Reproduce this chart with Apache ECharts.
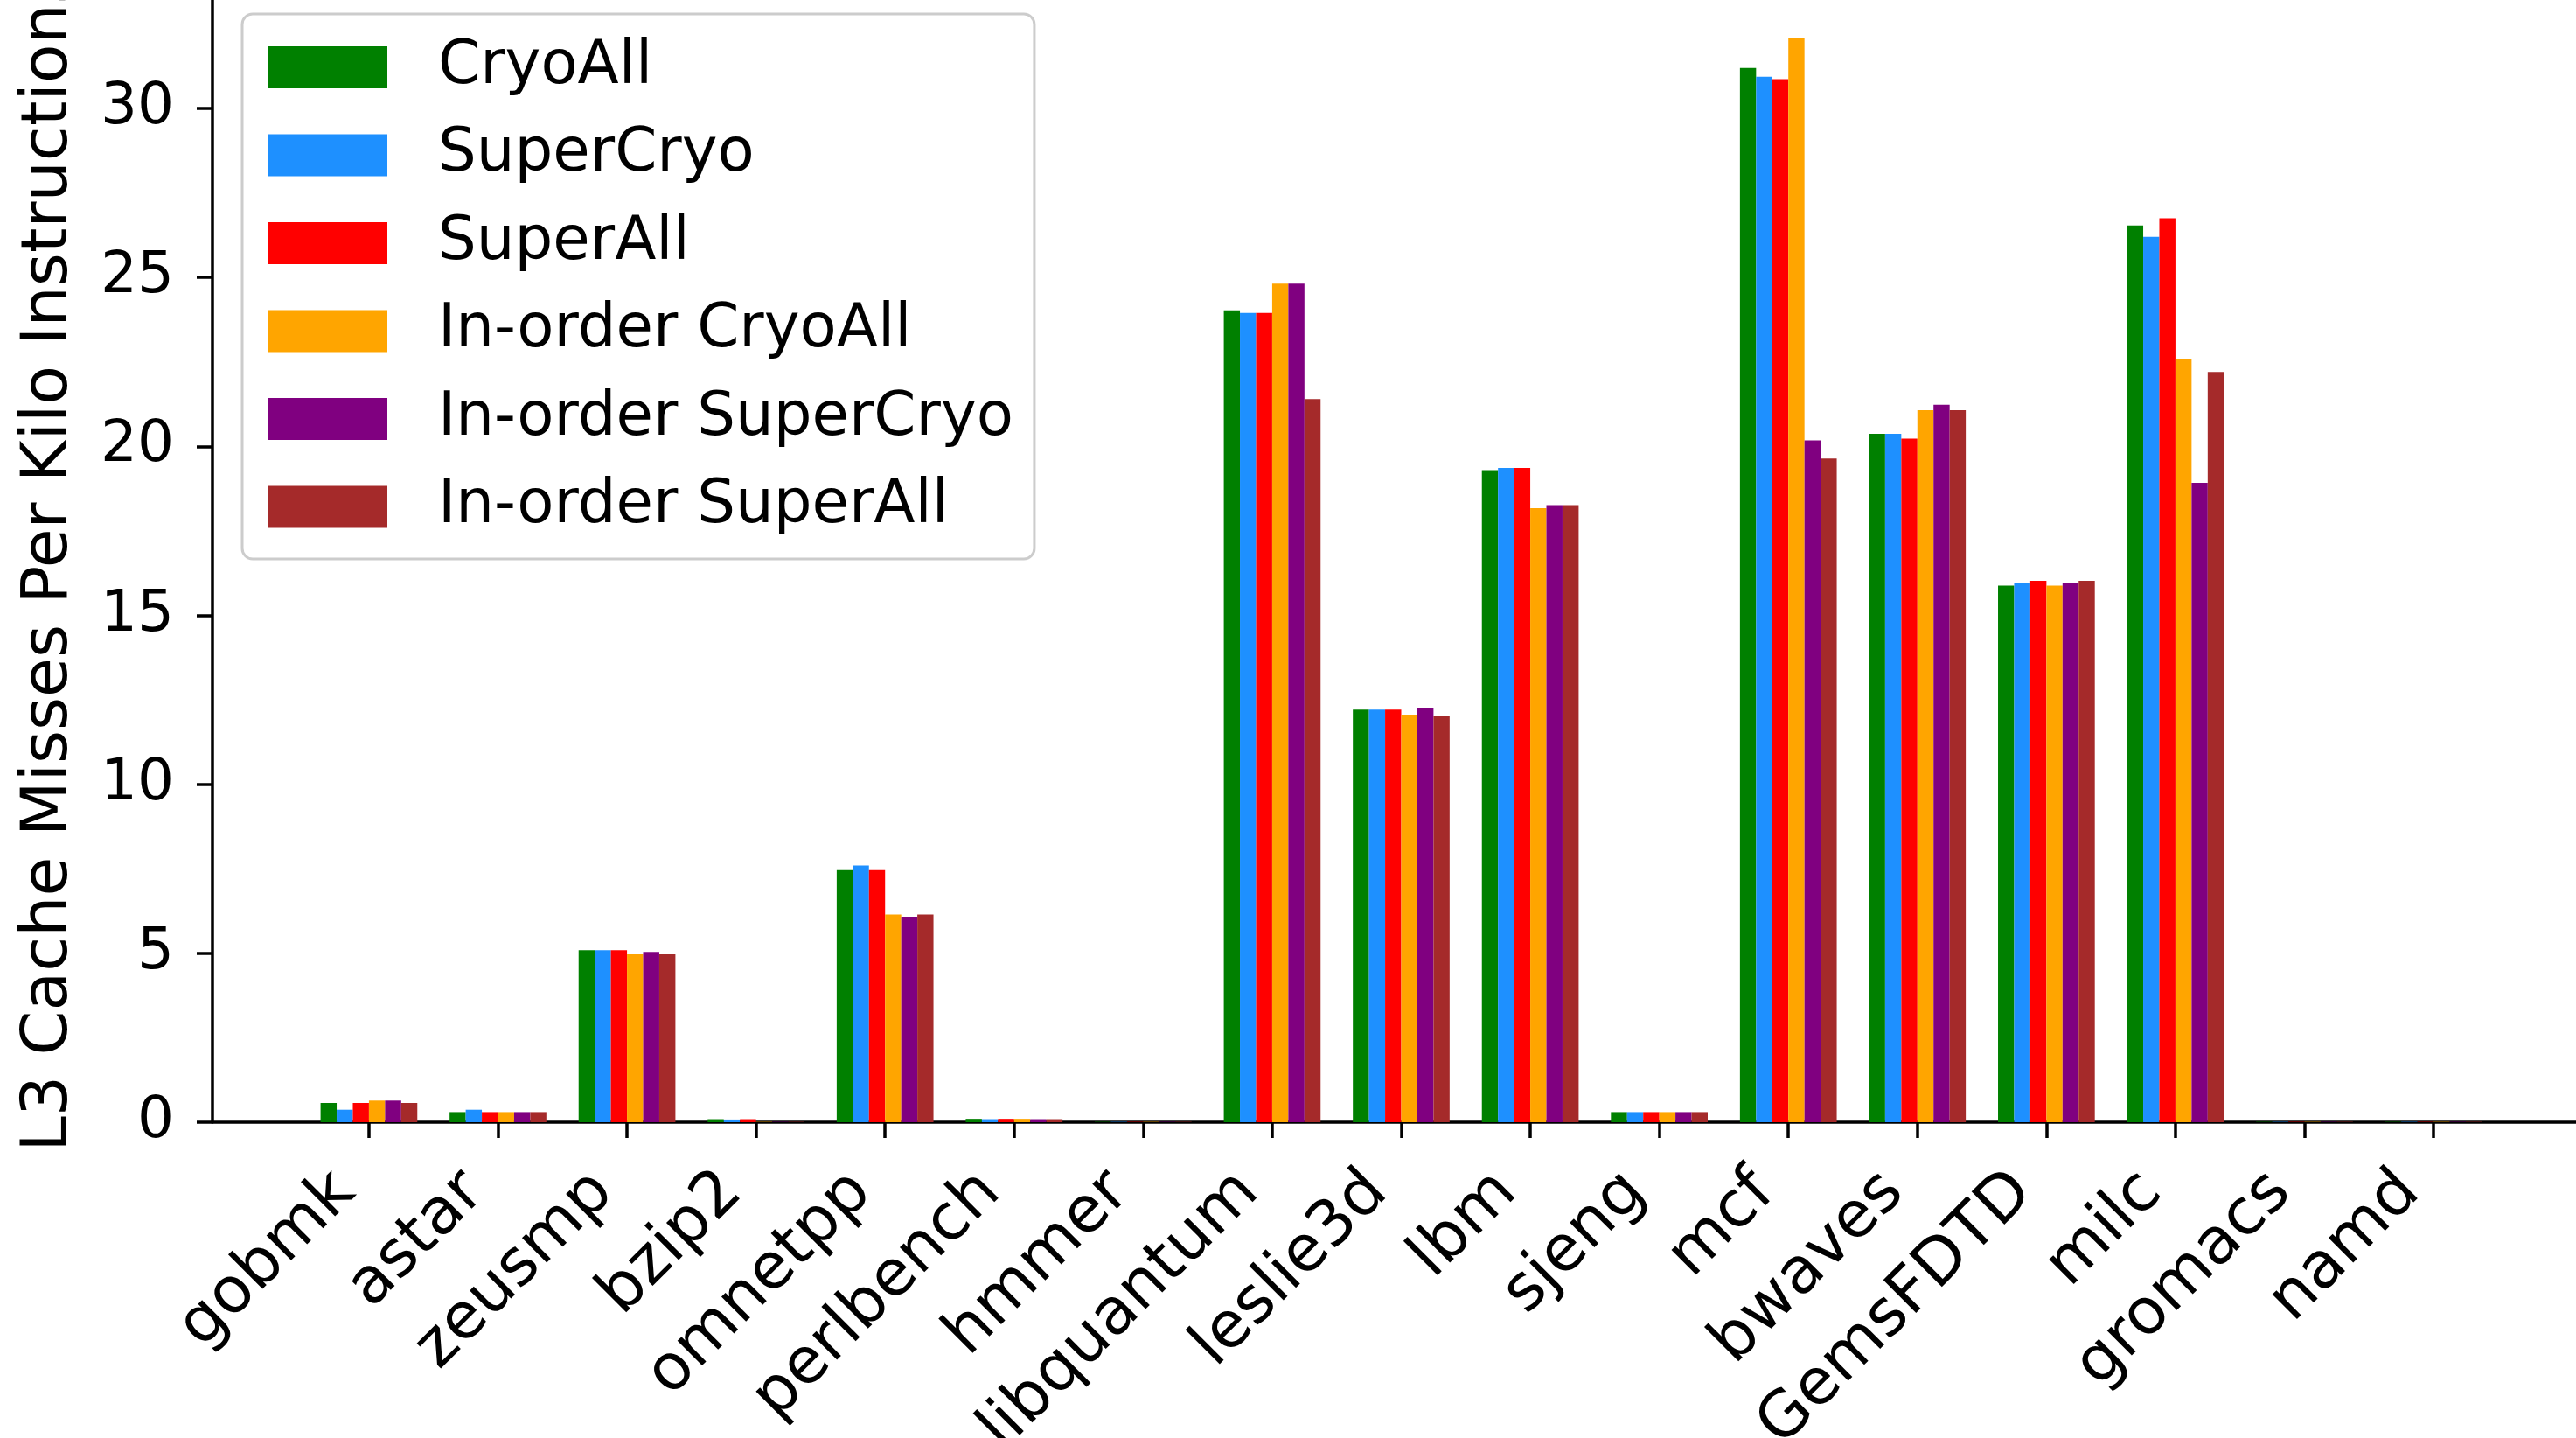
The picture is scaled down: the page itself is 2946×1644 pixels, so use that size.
<!DOCTYPE html>
<html><head><meta charset="utf-8">
<script src="https://cdn.jsdelivr.net/npm/echarts@6/dist/echarts.min.js"></script>
<style>html,body{margin:0;padding:0;background:#fff}#c{width:2946px;height:1644px}</style>
</head><body><div id="c"></div>
<script>
const categories = ['gobmk','astar','zeusmp','bzip2','omnetpp','perlbench','hmmer','libquantum','leslie3d','lbm','sjeng','mcf','bwaves','GemsFDTD','milc','gromacs','namd'];
const seriesNames = ['CryoAll','SuperCryo','SuperAll','In-order CryoAll','In-order SuperCryo','In-order SuperAll'];
const seriesColors = ['#008000','#1E90FF','#FF0000','#FFA500','#800080','#A52A2A'];
const cryoAll          = [0.57,0.30,5.09,0.09,7.46,0.10,0.01,24.03,12.21,19.30,0.30,31.20,20.37,15.88,26.54,0.01,0.01];
const superCryo        = [0.37,0.37,5.09,0.08,7.60,0.09,0.01,23.95,12.21,19.36,0.30,30.94,20.37,15.95,26.20,0.01,0.01];
const superAll         = [0.57,0.30,5.09,0.09,7.46,0.10,0.01,23.95,12.21,19.36,0.30,30.87,20.23,16.02,26.75,0.01,0.01];
const inorderCryoAll   = [0.64,0.30,4.97,0.01,6.15,0.10,0.01,24.82,12.06,18.17,0.30,32.07,21.07,15.88,22.59,0.01,0.01];
const inorderSuperCryo = [0.64,0.30,5.04,0.01,6.08,0.09,0.01,24.82,12.27,18.26,0.30,20.18,21.23,15.95,18.92,0.01,0.01];
const inorderSuperAll  = [0.57,0.30,4.97,0.01,6.15,0.09,0.01,21.40,12.01,18.26,0.30,19.64,21.07,16.02,22.20,0.01,0.01];
const yTicks = [0,5,10,15,20,25,30];
const yLabel = 'L3 Cache Misses Per Kilo Instructions';

const allValues = [cryoAll, superCryo, superAll, inorderCryoAll, inorderSuperCryo, inorderSuperAll];
const catIdx = categories.map((c, i) => i);
const FONT = 'DejaVu Sans';

const chart = echarts.init(document.getElementById('c'), null, {renderer: 'canvas'});
chart.setOption({
  animation: false,
  backgroundColor: '#ffffff',
  grid: {left: 243, right: -16, top: 0, bottom: 361, containLabel: false, outerBoundsMode: 'none'},
  legend: {
    orient: 'vertical', left: 277, top: 16,
    itemWidth: 137, itemHeight: 48, itemGap: 31.5,
    padding: [26.5, 24, 25, 29],
    backgroundColor: '#ffffff', borderColor: '#cccccc', borderWidth: 3, borderRadius: 12,
    icon: 'rect',
    textStyle: {fontSize: 69, fontFamily: FONT, color: '#000', padding: [0, 0, 0, 53]},
    data: seriesNames
  },
  xAxis: {
    type: 'value', min: -1.2125, max: 17.2125,
    splitLine: {show: false},
    axisLine: {show: true, onZero: false, lineStyle: {color: '#000', width: 3.5}},
    axisTick: {show: true, customValues: catIdx, length: 18, lineStyle: {color: '#000', width: 3.5}},
    axisLabel: {
      customValues: catIdx,
      formatter: v => categories[Math.round(v)] || '',
      rotate: 45, margin: 42, fontSize: 73, fontFamily: FONT, color: '#000',
      padding: [0, 38, 0, 0]
    }
  },
  yAxis: {
    type: 'value', min: 0, max: 33.21, interval: 5,
    name: yLabel, nameLocation: 'middle', nameGap: 149,
    nameTextStyle: {fontSize: 73, fontFamily: FONT, color: '#000'},
    splitLine: {show: false},
    axisLine: {show: true, onZero: false, lineStyle: {color: '#000', width: 3.5}},
    axisTick: {show: true, customValues: yTicks, length: 18, lineStyle: {color: '#000', width: 3.5}},
    axisLabel: {
      customValues: yTicks,
      formatter: v => (v % 5 === 0 ? String(v) : ''),
      margin: 44, fontSize: 66, fontFamily: FONT, color: '#000'
    }
  },
  series: seriesNames.map((name, s) => ({
    name: name, type: 'bar',
    barGap: '0%', barCategoryGap: '25%',
    itemStyle: {color: seriesColors[s]},
    data: allValues[s].map((v, i) => [catIdx[i], v])
  }))
});
</script>
</body></html>
